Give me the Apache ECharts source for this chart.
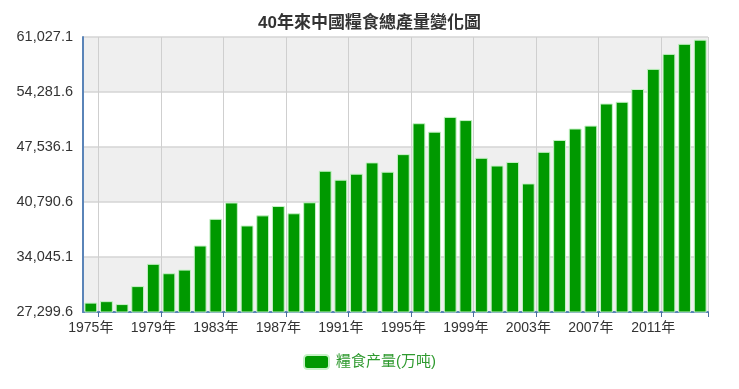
<!DOCTYPE html>
<html>
<head>
<meta charset="utf-8">
<script src="https://cdn.jsdelivr.net/npm/echarts@6/dist/echarts.min.js"></script>
<style>
html,body{margin:0;padding:0;background:#fff;}
#c{width:739px;height:389px;}
</style>
</head>
<body>
<div id="c"></div>
<script>
var years = ['1975年','1976年','1977年','1978年','1979年','1980年','1981年','1982年','1983年','1984年',
  '1985年','1986年','1987年','1988年','1989年','1990年','1991年','1992年','1993年','1994年',
  '1995年','1996年','1997年','1998年','1999年','2000年','2001年','2002年','2003年','2004年',
  '2005年','2006年','2007年','2008年','2009年','2010年','2011年','2012年','2013年','2014年'];
var grain = [28451.5, 28630.5, 28272.5, 30476.5, 33211.5, 32055.5, 32502.0, 35450.0, 38727.5, 40730.5,
  37910.8, 39151.2, 40297.7, 39408.1, 40754.9, 44624.3, 43529.3, 44265.8, 45648.8, 44510.1,
  46661.8, 50453.5, 49417.1, 51229.5, 50838.6, 46217.5, 45263.7, 45705.8, 43069.5, 46946.9,
  48402.2, 49804.2, 50160.3, 52870.9, 53082.1, 54647.7, 57120.8, 58958.0, 60193.8, 60702.6];
var yMin = 27299.6, yMax = 61027.1, yStep = 6745.5;
var titleText = '40年來中國糧食總產量變化圖';
var seriesName = '糧食产量(万吨)';

function fmt(v){
  var s = (Math.round(v*10)/10).toFixed(1);
  var p = s.split('.');
  p[0] = p[0].replace(/\B(?=(\d{3})+(?!\d))/g, ',');
  return p.join('.');
}
var every4 = function(i){ return i % 4 === 1; };

var chart = echarts.init(document.getElementById('c'));
chart.setOption({
  animation: false,
  backgroundColor: '#fff',
  textStyle: {fontFamily: 'Liberation Sans, Arial, Noto Sans CJK TC, sans-serif'},
  title: {
    text: titleText, left: 'center', top: 10,
    textStyle: {fontSize: 17, fontWeight: 'bold', color: '#333',
      fontFamily: 'Liberation Sans, Arial, Noto Sans CJK TC, sans-serif'}
  },
  legend: {
    data: [seriesName], bottom: 14, left: 'center',
    itemWidth: 25, itemHeight: 14, itemGap: 10,
    textStyle: {fontSize: 15, color: '#2f9a2f', padding: [0,0,0,2],
      fontFamily: 'Liberation Sans, Noto Sans CJK TC, sans-serif'}
  },
  grid: {left: 83, right: 31, top: 37, bottom: 77, containLabel: false},
  xAxis: {
    type: 'category', data: years, boundaryGap: true,
    axisLine: {show: true, lineStyle: {color: '#5a84b8', width: 2}},
    axisTick: {show: true, interval: every4, length: 5, lineStyle: {color: '#4a6f9a', width: 1}},
    axisLabel: {interval: 3, fontSize: 14, color: '#333', margin: 9},
    splitLine: {show: true, interval: every4, lineStyle: {color: '#cfcfcf', width: 1}}
  },
  yAxis: {
    type: 'value', min: yMin, max: yMax, interval: yStep,
    axisLine: {show: true, lineStyle: {color: '#5a84b8', width: 2}},
    axisTick: {show: false},
    axisLabel: {fontSize: 14.5, color: '#333', margin: 10, formatter: fmt},
    splitLine: {show: true, lineStyle: {color: '#d4d4d4', width: 1.5}},
    splitArea: {show: true, areaStyle: {color: ['#efefef', '#ffffff']}}
  },
  series: [{
    name: seriesName, type: 'bar', data: grain,
    barWidth: '82%',
    itemStyle: {color: '#009900', borderColor: '#c6f2c6', borderWidth: 1}
  }]
});
</script>
</body>
</html>
